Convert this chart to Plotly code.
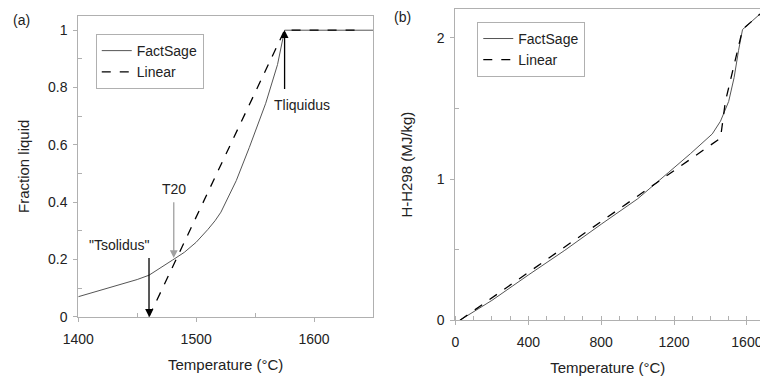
import plotly.graph_objects as go

# ---- data: panel (a) fraction liquid ----
fs_a_T = [1400, 1420, 1440, 1450, 1460, 1470, 1480, 1490, 1500, 1510, 1516, 1521, 1527, 1534, 1545, 1559, 1569, 1575, 1650]
fs_a_f = [0.07, 0.093, 0.117, 0.13, 0.145, 0.17, 0.198, 0.225, 0.26, 0.305, 0.335, 0.365, 0.415, 0.475, 0.59, 0.745, 0.88, 1.0, 1.0]
lin_a_T = [1460, 1575, 1640]
lin_a_f = [0.0, 1.0, 1.0]

# ---- data: panel (b) enthalpy ----
fs_b_T = [25, 200, 400, 600, 800, 1000, 1168, 1290, 1410, 1455, 1500, 1530, 1554, 1576, 1672]
fs_b_H = [0.0, 0.14, 0.32, 0.495, 0.68, 0.86, 1.045, 1.18, 1.32, 1.41, 1.55, 1.72, 1.91, 2.06, 2.17]
lin_b_T = [25, 1455, 1482, 1576, 1672]
lin_b_H = [0.0, 1.29, 1.55, 2.06, 2.17]

# characteristic temperatures (panel a)
T_solidus = 1460
T_20 = 1481
T_liquidus = 1575

FONT = "Liberation Sans, Arial, sans-serif"
TXT = "#222222"
FRAME = "#b0b0b0"
FS_COLOR = "#555555"
TICK_SIZE = 14
TITLE_SIZE = 15

fig = go.Figure()
fig.add_trace(go.Scatter(x=fs_a_T, y=fs_a_f, mode="lines", name="FactSage",
                         line=dict(color=FS_COLOR, width=1), xaxis="x", yaxis="y", legend="legend"))
fig.add_trace(go.Scatter(x=lin_a_T, y=lin_a_f, mode="lines", name="Linear",
                         line=dict(color="black", width=1.3, dash="dash"), xaxis="x", yaxis="y", legend="legend"))
fig.add_trace(go.Scatter(x=fs_b_T, y=fs_b_H, mode="lines", name="FactSage",
                         line=dict(color=FS_COLOR, width=1), xaxis="x2", yaxis="y2", legend="legend2"))
fig.add_trace(go.Scatter(x=lin_b_T, y=lin_b_H, mode="lines", name="Linear",
                         line=dict(color="black", width=1.3, dash="dash"), xaxis="x2", yaxis="y2", legend="legend2"))

axis_common = dict(showline=True, linecolor=FRAME, linewidth=1, mirror=True, showgrid=False,
                   zeroline=False, ticks="outside", ticklen=4, tickcolor=FRAME, automargin=False,
                   tickfont=dict(family=FONT, size=TICK_SIZE, color=TXT),
                   title_font=dict(family=FONT, size=TITLE_SIZE, color=TXT))

legend_common = dict(xanchor="left", yanchor="top", bgcolor="white",
                     bordercolor=FRAME, borderwidth=1, font=dict(family=FONT, size=14, color=TXT),
                     tracegroupgap=0, itemwidth=30)

fig.update_layout(
    width=760, height=378, margin=dict(l=0, r=0, t=0, b=0, autoexpand=False),
    paper_bgcolor="white", plot_bgcolor="white",
    font=dict(family=FONT, size=14, color=TXT),
    xaxis=dict(domain=[0.103, 0.4908], range=[1400, 1650], tickvals=[1400, 1500, 1600],
               ticklabelstandoff=5,
               minor=dict(tickvals=[1450, 1550], ticks="inside", ticklen=4, tickcolor=FRAME),
               title=dict(text="Temperature (°C)", standoff=13), anchor="y", **axis_common),
    yaxis=dict(domain=[0.162, 0.958], range=[0, 1.05], tickvals=[0, 0.2, 0.4, 0.6, 0.8, 1],
               ticktext=["0", "0.2", "0.4", "0.6", "0.8", "1"], ticklabelstandoff=3,
               minor=dict(tickvals=[0.1, 0.3, 0.5, 0.7, 0.9], ticks="inside", ticklen=4, tickcolor=FRAME),
               title=dict(text="Fraction liquid", standoff=14), anchor="x", **axis_common),
    xaxis2=dict(domain=[0.5993, 1.0], range=[0, 1672], tickvals=[0, 400, 800, 1200, 1600],
                ticklabeloverflow="allow", ticklabelstandoff=5,
                minor=dict(dtick=100, tick0=0, ticks="inside", ticklen=4, tickcolor=FRAME),
                title=dict(text="Temperature (°C)", standoff=13), anchor="y2", **axis_common),
    yaxis2=dict(domain=[0.153, 0.976], range=[0, 2.205], tickvals=[0, 1, 2], ticklabelstandoff=3,
                minor=dict(tickvals=[0.5, 1.5], ticks="inside", ticklen=4, tickcolor=FRAME),
                title=dict(text="H-H298 (MJ/kg)", standoff=20), anchor="x2", **axis_common),
    legend=dict(x=0.126, y=0.910, **legend_common),
    legend2=dict(x=0.628, y=0.942, **legend_common),
    showlegend=True,
)

ann = []
# arrows
ann.append(dict(x=T_solidus, y=0, ax=T_solidus, ay=0.21, xref="x", yref="y", axref="x", ayref="y",
                showarrow=True, arrowhead=2, arrowsize=1.2, arrowwidth=1.3, arrowcolor="black", text=""))
ann.append(dict(x=T_20, y=0.205, ax=T_20, ay=0.405, xref="x", yref="y", axref="x", ayref="y",
                showarrow=True, arrowhead=2, arrowsize=1.2, arrowwidth=1.3, arrowcolor="#a0a0a0", text=""))
ann.append(dict(x=T_liquidus, y=1.0, ax=T_liquidus, ay=0.79, xref="x", yref="y", axref="x", ayref="y",
                showarrow=True, arrowhead=2, arrowsize=1.2, arrowwidth=1.3, arrowcolor="black", text=""))
# labels
ann.append(dict(x=1435, y=0.25, xref="x", yref="y", text='"Tsolidus"', showarrow=False,
                font=dict(family=FONT, size=14, color=TXT)))
ann.append(dict(x=T_20, y=0.445, xref="x", yref="y", text="T20", showarrow=False,
                font=dict(family=FONT, size=14, color=TXT)))
ann.append(dict(x=1590, y=0.74, xref="x", yref="y", text="Tliquidus", showarrow=False,
                font=dict(family=FONT, size=14, color=TXT)))
ann.append(dict(x=0.028, y=0.947, xref="paper", yref="paper", text="(a)", showarrow=False,
                xanchor="center", yanchor="middle", font=dict(family=FONT, size=14, color=TXT)))
ann.append(dict(x=0.530, y=0.955, xref="paper", yref="paper", text="(b)", showarrow=False,
                xanchor="center", yanchor="middle", font=dict(family=FONT, size=14, color=TXT)))
fig.update_layout(annotations=ann)

fig.write_html("out.html")
